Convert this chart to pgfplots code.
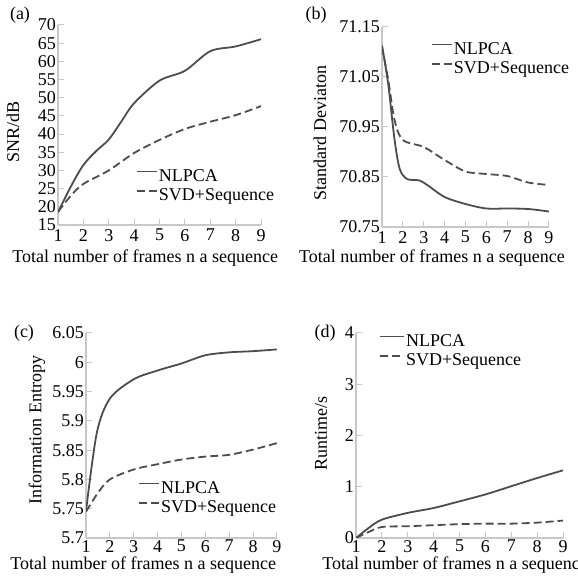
\documentclass[border=0pt]{standalone}
\usepackage{fontspec}
\setmainfont{Liberation Serif}
\usepackage{pgfplots}
\pgfplotsset{compat=1.18}
\definecolor{curve}{HTML}{4D4D4D}
\definecolor{axisgray}{HTML}{C8C8C8}

\pgfplotsset{
  panel/.style={
    scale only axis, anchor=south west,
    axis x line*=bottom, axis y line*=left,
    axis line style={draw=axisgray, line width=1.2bp},
    major tick style={draw=axisgray, line width=1bp},
    major tick length=6bp, tick align=inside,
    xmin=1, xmax=9, xtick={1,...,9},
    no markers,
    /pgf/number format/assume math mode=true,
    yticklabel style={inner xsep=2bp},
    xticklabel style={inner ysep=2bp},
    xlabel={Total number of frames n a sequence},
    legend cell align=left,
    legend image code/.code={\draw[##1] (0bp,5bp) -- (20bp,5bp);},
    legend style={draw=none, fill=none, anchor=north west,
      nodes={inner sep=1bp}, row sep=3bp},
  },
  nl/.style={curve, line width=1.8bp, smooth, tension=0.5},
  svd/.style={curve, line width=1.8bp, dash pattern=on 8bp off 4bp, smooth, tension=0.5},
}

\begin{document}
\fontsize{18bp}{21bp}\selectfont
\begin{tikzpicture}
\useasboundingbox (0,0) rectangle (578bp,581bp);

% (a) SNR
\begin{axis}[panel, at={(58bp,356bp)}, width=203bp, height=200bp,
  ymin=15, ymax=70, ytick={15,20,...,70},
  xticklabel style={inner ysep=4bp},
  ylabel={SNR/dB},
  xlabel style={at={(axis description cs:0.43,-0.165)}, anchor=center},
  ylabel style={at={(axis description cs:-0.222,0.465)}, anchor=center},
  legend style={at={(axis description cs:0.369,0.295)}}]
\addplot[nl] coordinates {
  (1,18.5) (1.5,25.5) (2,31.5) (2.5,35.3) (3,38.5) (3.5,43.5) (4,48.5)
  (5,54.7) (6,57.4) (7,62.8) (8,64.1) (9,66.1)};
\addlegendentry{NLPCA}
\addplot[svd] coordinates {
  (1,18.6) (1.5,23) (2,26.3) (3,30) (4,34.8) (5,38.4) (6,41.4)
  (7,43.4) (8,45.2) (9,47.7)};
\addlegendentry{SVD+Sequence}
\end{axis}

% (b) Standard deviation
\begin{axis}[panel, at={(382bp,354bp)}, width=167bp, height=200bp,
  ymin=70.75, ymax=71.15, ytick={70.75,70.85,70.95,71.05,71.15},
  yticklabel style={/pgf/number format/fixed, /pgf/number format/fixed zerofill,
    /pgf/number format/precision=2},
  xticklabel style={inner ysep=4bp},
  ylabel={Standard Deviaton},
  xlabel style={at={(axis description cs:-0.533,-0.155)}, anchor=west},
  ylabel style={at={(axis description cs:-0.371,0.47)}, anchor=center},
  legend style={at={(axis description cs:0.275,0.94)}}]
\addplot[nl] coordinates {
  (1,71.113) (1.3,71.035) (1.6,70.925) (1.85,70.866) (2.2,70.846)
  (2.8,70.843) (3.2,70.833) (4,70.81) (5,70.796) (6,70.787) (7,70.787)
  (8,70.786) (9,70.781)};
\addlegendentry{NLPCA}
\addplot[svd] coordinates {
  (1,71.11) (1.3,71.044) (1.6,70.964) (2,70.924) (3,70.91) (4,70.884)
  (5,70.861) (6,70.856) (7,70.852) (8,70.839) (9,70.834)};
\addlegendentry{SVD+Sequence}
\end{axis}

% (c) Information entropy
\begin{axis}[panel, at={(86bp,43bp)}, width=191bp, height=205bp,
  ymin=5.7, ymax=6.05,
  ytick={5.7,5.75,5.8,5.85,5.9,5.95,6,6.05},
  ylabel={Information Entropy},
  xlabel style={at={(axis description cs:0.30,-0.132)}, anchor=center},
  ylabel style={at={(axis description cs:-0.257,0.527)}, anchor=center},
  legend style={at={(axis description cs:0.257,0.293)}}]
\addplot[nl] coordinates {
  (1,5.7455) (1.45,5.879) (2,5.938) (3,5.971) (4,5.986) (5,5.998)
  (6,6.012) (7,6.017) (8,6.019) (9,6.022)};
\addlegendentry{NLPCA}
\addplot[svd] coordinates {
  (1,5.745) (1.5,5.777) (2,5.8) (3,5.817) (4,5.826) (5,5.834)
  (6,5.839) (7,5.842) (8,5.851) (9,5.862)};
\addlegendentry{SVD+Sequence}
\end{axis}

% (d) Runtime
\begin{axis}[panel, at={(356bp,43bp)}, width=207bp, height=205bp,
  ymin=0, ymax=4, ytick={0,1,2,3,4},
  ylabel={Runtime/s},
  legend image code/.code={\draw[#1] (0bp,5bp) -- (24bp,5bp);},
  xlabel style={at={(axis description cs:-0.193,-0.132)}, anchor=west},
  ylabel style={at={(axis description cs:-0.169,0.512)}, anchor=center},
  legend style={at={(axis description cs:0.097,1.01)}}]
\addplot[nl] coordinates {
  (1,0) (1.5,0.2) (2,0.358) (3,0.49) (4,0.585) (5,0.715) (6,0.85)
  (7,1.01) (8,1.17) (9,1.32)};
\addlegendentry{NLPCA}
\addplot[svd] coordinates {
  (1,0) (1.5,0.12) (2,0.215) (3,0.23) (4,0.25) (5,0.27) (6,0.28)
  (7,0.28) (8,0.3) (9,0.34)};
\addlegendentry{SVD+Sequence}
\end{axis}

\node at (20bp,566bp) {(a)};
\node at (316bp,566bp) {(b)};
\node at (24bp,248bp) {(c)};
\node at (325bp,248bp) {(d)};
\end{tikzpicture}
\end{document}
